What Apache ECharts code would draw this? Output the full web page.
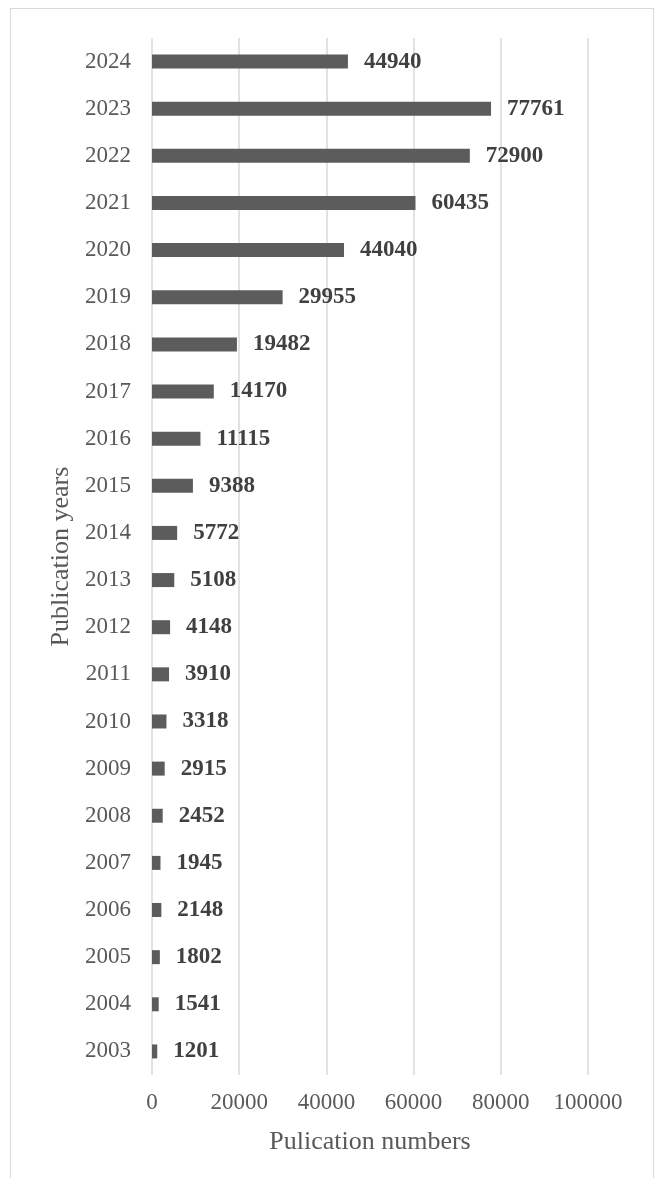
<!DOCTYPE html>
<html><head><meta charset="utf-8">
<script src="https://cdn.jsdelivr.net/npm/echarts@6/dist/echarts.min.js"></script>
<style>
html,body{margin:0;padding:0;background:#fff;}
#frame{position:absolute;left:10px;top:8px;width:642px;height:1200px;border:1px solid #d9d9d9;}
#c{position:absolute;left:0;top:0;width:657px;height:1178px;}
</style></head>
<body><div id="frame"></div><div id="c"></div>
<script>
const years = ['2003','2004','2005','2006','2007','2008','2009','2010','2011','2012','2013','2014','2015','2016','2017','2018','2019','2020','2021','2022','2023','2024'];
const counts = [1201,1541,1802,2148,1945,2452,2915,3318,3910,4148,5108,5772,9388,11115,14170,19482,29955,44040,60435,72900,77761,44940];
const xTicks = [0,20000,40000,60000,80000,100000];
const FONT = '"Liberation Serif","Times New Roman",serif';
const chart = echarts.init(document.getElementById('c'), null, {renderer:'canvas'});
chart.setOption({
  animation:false,
  grid:{left:152,right:69,top:38,bottom:103,containLabel:false},
  xAxis:{type:'value',min:xTicks[0],max:xTicks[xTicks.length-1],interval:20000,
    name:'Pulication numbers',nameLocation:'middle',nameGap:54,
    nameTextStyle:{fontFamily:FONT,fontSize:26,color:'#595959'},
    axisLine:{show:false},axisTick:{show:false},
    axisLabel:{fontFamily:FONT,fontSize:23,color:'#595959',margin:16,formatter:v=>String(v)},
    splitLine:{show:true,lineStyle:{color:'#d9d9d9',width:1.5}}},
  yAxis:{type:'category',data:years,
    name:'Publication years',nameLocation:'middle',nameGap:77,
    nameTextStyle:{fontFamily:FONT,fontSize:26,color:'#595959'},
    axisLine:{show:false},axisTick:{show:false},
    axisLabel:{fontFamily:FONT,fontSize:23,color:'#595959',margin:21}},
  series:[{type:'bar',data:counts,barWidth:14,
    itemStyle:{color:'#5c5c5c'},
    label:{show:true,position:'right',distance:16,fontFamily:FONT,fontSize:23,fontWeight:'bold',color:'#404040'}}]
});
</script></body></html>
